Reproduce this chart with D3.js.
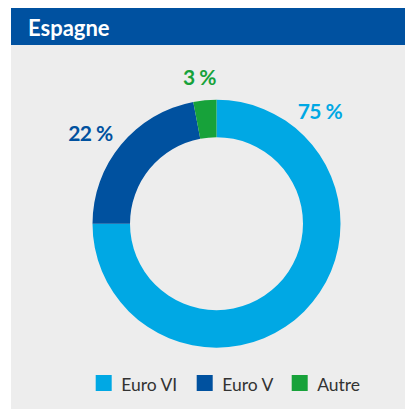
<!DOCTYPE html>
<html>
<head>
<meta charset="utf-8">
<script src="https://cdn.jsdelivr.net/npm/d3@7"></script>
<style>
html,body{margin:0;padding:0;background:#fff;}
svg{display:block;}
</style>
</head>
<body>
<svg id="chart" width="405" height="409"></svg>
<script>
const title = "Espagne";
const categories = ["Euro VI", "Euro V", "Autre"];
const values = [75, 22, 3];
const labels = ["75 %", "22 %", "3 %"];
const colors = ["#00a8e4", "#00519f", "#17a23a"];

const svg = d3.select("#chart");
const W = 405, H = 409;
const font = "Lato, 'Open Sans', sans-serif";

// panel
svg.append("rect").attr("x", 11).attr("y", 45).attr("width", W - 11).attr("height", H - 45).attr("fill", "#ededed");
svg.append("rect").attr("x", 11).attr("y", 8).attr("width", W - 11).attr("height", 37).attr("fill", "#0051a0");
svg.append("text").attr("x", 28).attr("y", 36).text(title)
  .attr("fill", "#fff").attr("font-family", font).attr("font-weight", 700).attr("font-size", 22);

// donut
const cx = 216.5, cy = 223.7, rOuter = 124, rInner = 86.5;
const pie = d3.pie().sort(null).value(d => d)(values);
const arc = d3.arc().innerRadius(rInner).outerRadius(rOuter);
const g = svg.append("g").attr("transform", `translate(${cx},${cy})`);
g.selectAll("path").data(pie).join("path")
  .attr("d", arc).attr("fill", (d, i) => colors[i]);

// labels placed outside the ring at the slice's start angle side
const labelArc = d3.arc().innerRadius(rOuter + 28).outerRadius(rOuter + 28);
const labelPos = [
  {x: 320, y: 119},
  {x: 90.5, y: 141},
  {x: 199.5, y: 85}
];
g.selectAll("text.lbl").data(pie).join("text")
  .attr("class", "lbl")
  .attr("x", (d, i) => labelPos[i].x - cx)
  .attr("y", (d, i) => labelPos[i].y - cy)
  .attr("text-anchor", "middle")
  .attr("fill", (d, i) => colors[i])
  .attr("font-family", font).attr("font-weight", 700).attr("font-size", 21)
  .attr("letter-spacing", -0.5)
  .text((d, i) => labels[i]);

// legend
const legendX = [95.7, 196.7, 291.7];
const lg = svg.append("g");
categories.forEach((c, i) => {
  lg.append("rect").attr("x", legendX[i]).attr("y", 375).attr("width", 16).attr("height", 16).attr("fill", colors[i]);
  lg.append("text").attr("x", legendX[i] + 25.5).attr("y", 390.5).text(c)
    .attr("fill", "#333").attr("font-family", font).attr("font-size", 17.5);
});
</script>
</body>
</html>
